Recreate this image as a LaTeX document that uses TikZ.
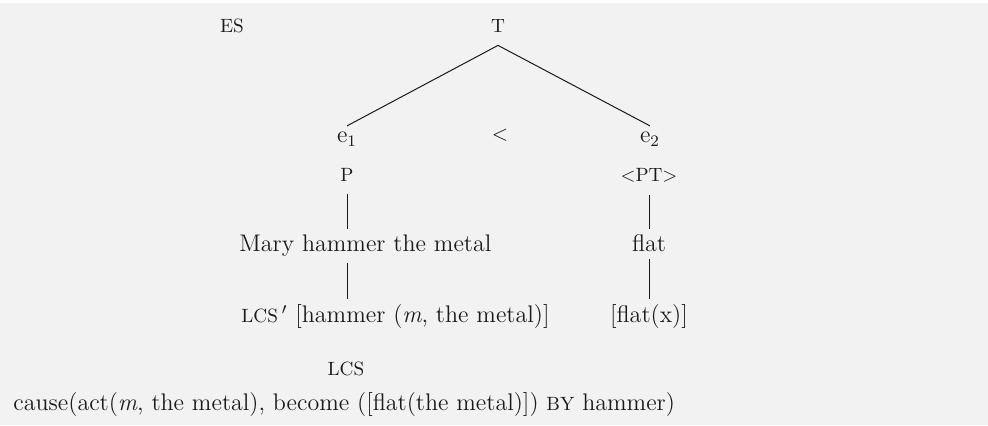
\documentclass[tikz,border=0pt]{standalone}
\usepackage{tikz}
\usetikzlibrary{positioning}
\definecolor{panel}{HTML}{F2F2F2}
\definecolor{ink}{HTML}{1A1A1A}
\newcommand{\smcaps}[1]{{\fontsize{9.6}{11}\selectfont #1}}

\begin{document}
\begin{tikzpicture}[
  x=0.5pt, y=-0.5pt,
  every node/.style={inner sep=3pt, anchor=base, text=ink,
    font=\fontsize{12}{14}\selectfont},
  sc/.style={inner sep=6pt},
  edge/.style={draw=ink, line width=0.5pt}
]
  \useasboundingbox (0,0) rectangle (988,426);
  \fill[panel] (0,3) rectangle (988,425);

  \node[sc] (es) at (232,33) {\smcaps{ES}};
  \node[sc] (t) at (498,33) {\smcaps{T}};
  \node (e1) at (347,143) {e\textsubscript{1}};
  \node (prec) at (500,141) {{\fontsize{10.5}{12}\selectfont\textless}};
  \node (e2) at (650,143) {e\textsubscript{2}};
  \node[sc] (p) at (347,182) {\smcaps{P}};
  \node[sc] (pt) at (649,182) {\smcaps{\textless PT\textgreater}};
  \node[anchor=base west] (mary) at (233,252) {Mary hammer the metal};
  \node (flat) at (649,252) {flat};
  \node[anchor=base west] (lcsp) at (235,323)
    {\smcaps{LCS}$\,'$ [hammer (\textit{m}, the metal)]};
  \node (flatx) at (649,323) {[flat(x)]};
  \node (lcs) at (346,375) {\smcaps{LCS}};
  \node[anchor=base west] (cause) at (7,410)
    {cause(act(\textit{m}, the metal), become ([flat(the metal)]) \smcaps{BY} hammer)};

  \draw[edge] (t.south) -- (e1.north);
  \draw[edge] (t.south) -- (e2.north);
  \draw[edge] (p.south) -- (p.south |- mary.north);
  \draw[edge] (p.south |- mary.south) -- (p.south |- lcsp.north);
  \draw[edge] (pt.south) -- (flat.north);
  \draw[edge] (flat.south) -- (flatx.north);
\end{tikzpicture}
\end{document}
